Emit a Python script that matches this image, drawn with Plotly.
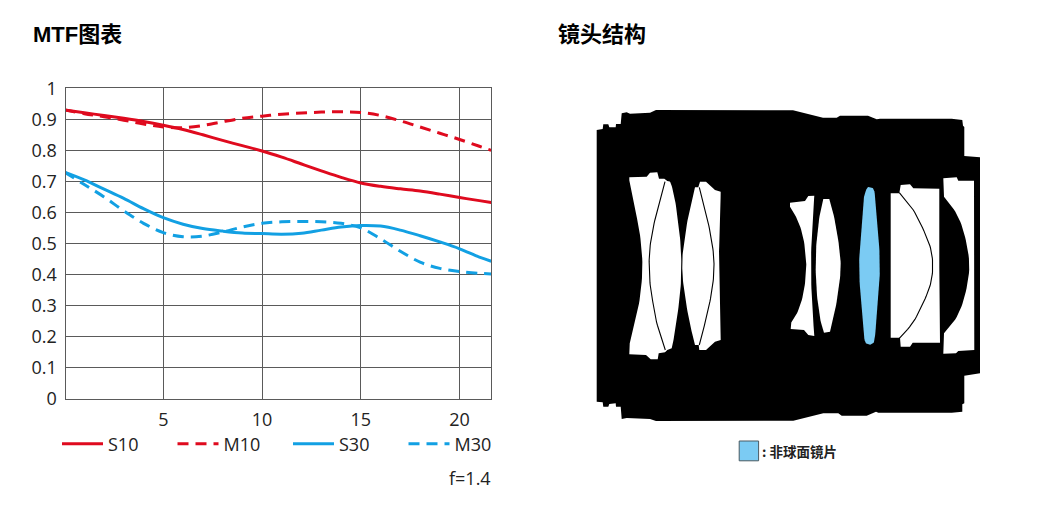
import plotly.graph_objects as go

# MTF data
image_height = [0, 1, 2, 3, 4, 5, 6, 7, 8, 9, 10, 11, 12, 13, 14, 15, 16, 17, 18, 19, 20, 21, 21.6]
s10 = [0.93, 0.921, 0.912, 0.903, 0.893, 0.881, 0.867, 0.85, 0.832, 0.815, 0.798, 0.778, 0.756, 0.734, 0.713, 0.695, 0.684, 0.676, 0.669, 0.659, 0.648, 0.638, 0.632]
m10 = [0.93, 0.918, 0.908, 0.897, 0.885, 0.875, 0.873, 0.88, 0.892, 0.903, 0.91, 0.916, 0.92, 0.923, 0.924, 0.922, 0.912, 0.895, 0.875, 0.855, 0.835, 0.813, 0.80]
s30 = [0.73, 0.705, 0.675, 0.645, 0.612, 0.583, 0.562, 0.548, 0.54, 0.534, 0.532, 0.53, 0.533, 0.543, 0.553, 0.558, 0.556, 0.543, 0.525, 0.505, 0.483, 0.456, 0.443]
m30 = [0.73, 0.69, 0.65, 0.605, 0.565, 0.535, 0.522, 0.524, 0.537, 0.553, 0.565, 0.57, 0.571, 0.57, 0.565, 0.55, 0.515, 0.475, 0.44, 0.42, 0.41, 0.404, 0.402]
x_ticks = [5, 10, 15, 20]

# Lens diagram outlines (picture coordinates); "L" runs are straight, "C" runs are curved
body = [("L", [(596.7,130),(602.7,129),(603.3,124.3),(608.3,124.3),(609.3,127.3),(615.7,127.3),(616,124),(620.7,124),(621.7,113.3),(626.7,112.3),(630,113.7),(650,112.7),(656,110),(793,110.3),(823,117.7),(836.7,117.7),(840,115.7),(868,115.7),(876.7,119.3),(880,118.7),(951.7,118.7),(962.3,120),(963,125.7),(964.3,127),(964.3,156),(980,157.3),(980,373.3),(964.3,375.7),(964.3,403.3),(962.3,404.3),(962.3,411.7),(951.7,412.7),(878.3,412.7),(876,411.7),(866.7,415.7),(841.7,415.7),(838.3,413.3),(823.3,413.3),(793.3,420.7),(656,421),(650,419),(630,418.7),(626.7,418),(621.7,419),(620.7,406.7),(616,406.7),(615.7,403.3),(609.3,404),(608.3,406.7),(603.3,406.7),(602.7,402.3),(596.7,401.7)])]
group_a = [
    ("L", [(629.3,177.3),(646.7,176.7),(650,172.7),(657.3,172.3),(659,178.7),(664.3,178.7),(667.3,181)]),
    ("C", [(667.3,181),(670.7,183),(675,200),(678.5,225),(680.7,246),(681.3,266),(680.7,286),(678.5,307),(675,332),(671.7,348.3)]),
    ("L", [(671.7,348.3),(667.3,350),(665,352.3),(658.7,353.3),(657.7,359.3),(650.7,359.3),(646,355),(629.3,354.3),(629.3,345)]),
    ("C", [(629.3,345),(635,321.7),(640,297),(642.4,266),(640,235),(635,209),(630,186.7),(629.3,177.3)]),
]
seam_a = [(665,181.7),(659,203.3),(652.7,230),(649.7,250),(649.2,266),(650.2,285),(653,303),(656.5,322),(665.3,350)]
group_b = [
    ("C", [(695,187.3),(689.3,211),(685,236),(682.6,255),(682.3,266),(682.6,277),(685,296),(689.3,321),(695,345)]),
    ("L", [(695,345),(698.7,345),(699.3,350),(706,350),(715,341.7),(720.7,340)]),
    ("C", [(720.7,340),(720,305),(718.7,266),(720,227),(720.7,191.7)]),
    ("L", [(720.7,191.7),(715,190),(706,181.7),(700,181.7),(698.3,187.3)]),
]
seam_b = [(699.3,187.3),(706,213),(711,236.7),(713.6,255),(714,266),(713.6,277),(711,296),(706,319),(699.3,345)]
lens_c = [
    ("L", [(790,202.7),(805,201),(808.3,196),(814.3,195.7)]),
    ("C", [(814.3,195.7),(812,230),(811,266),(812,302),(814.3,336)]),
    ("L", [(814.3,336),(808.3,335),(804,330),(790.7,329),(790.7,323.3)]),
    ("C", [(790.7,323.3),(798,311),(803.5,293),(806,272),(806,260),(803.5,239),(798,221),(790,206.7)]),
]
lens_d = [
    ("C", [(823.3,199),(820,213.3),(816.7,240),(815.7,266),(816.7,292),(820,318),(824,332.7)]),
    ("L", [(824,332.7),(830,331.7)]),
    ("C", [(830,331.7),(835,311),(839,286),(840.7,266),(839,246),(835,221),(829.3,199)]),
]
lens_asph = [
    ("C", [(864,196.7),(861.5,226),(859.6,250),(859.2,266),(859.6,282),(861.5,306),(864.3,338.3),(867.3,344),(871.7,344),(874.7,338.3),(877.5,306),(879.4,282),(879.8,266),(879.4,250),(877.5,226),(874.7,193.3),(871.7,187.7),(867.3,187.7),(864,196.7)]),
]
group_e = [("L", [(890.7,193.3),(899.3,193.3),(900.7,185),(910,184.3),(913.3,188.3),(939.3,188.7),(939.3,266.7),(940,342.7),(912.7,342.7),(910,346.7),(900.7,346.7),(900,337.7),(890.7,337.7)])]
seam_e = [(899.3,192.7),(913.3,210),(925,233.3),(931,250),(932.7,266),(931,282),(925,299),(913.3,322),(899.3,338.3)]
lens_f = [
    ("L", [(943.3,178.3),(956.7,177.3),(958.3,180.7),(974,180.7),(974.3,350),(958.3,351),(956,353.3),(943.3,353.7),(944,333.3)]),
    ("C", [(944,333.3),(956.7,317),(965,295),(969.3,266),(965,236.7),(956.7,214),(944,196.7)]),
]
key_box = [("L", [(739.2,441),(758.6,441),(758.6,460.8),(739.2,460.8)])]

RED = "#DF0A1E"
BLUE = "#12A0E3"
SKY = "#7BCBF3"
GRID = "#5A5A5A"
LATIN = "Open Sans, Noto Sans, sans-serif"
BOLD = "Liberation Sans, Noto Sans CJK SC, sans-serif"
CJK = "Noto Sans CJK SC, sans-serif"
# The page has an 8px body margin: the figure covers picture coordinates 8..1036 and 8..517.
OFF = 8
W, H = 1028, 509


def px(v):
    return (v - OFF) / W


def py(v):
    return 1 - (v - OFF) / H


def smooth(pts, steps=8):
    """Catmull-Rom curve through the outline points."""
    out = []
    n = len(pts)
    for i in range(n - 1):
        p0, p1, p2, p3 = pts[max(i - 1, 0)], pts[i], pts[i + 1], pts[min(i + 2, n - 1)]
        for k in range(steps):
            t = k / steps
            out.append(tuple(
                0.5 * (2 * p1[a] + (p2[a] - p0[a]) * t
                       + (2 * p0[a] - 5 * p1[a] + 4 * p2[a] - p3[a]) * t ** 2
                       + (3 * p1[a] - p0[a] - 3 * p2[a] + p3[a]) * t ** 3)
                for a in (0, 1)))
    out.append(pts[-1])
    return out


def outline(runs):
    pts = []
    for kind, run in runs:
        pts += smooth(run) if kind == "C" else run
    return pts + [pts[0]]


fig = go.Figure()

for name, vals, color, dash in [
    ("S10", s10, RED, "solid"),
    ("M10", m10, RED, "11px,7px"),
    ("S30", s30, BLUE, "solid"),
    ("M30", m30, BLUE, "11px,7px"),
]:
    fig.add_trace(go.Scatter(x=image_height, y=vals, name=name, mode="lines",
                             line=dict(color=color, width=3, dash=dash, shape="spline", smoothing=1.0),
                             xaxis="x", yaxis="y"))


def poly(runs, fill, line_color=None, line_width=0):
    pts = outline(runs)
    fig.add_trace(go.Scatter(x=[p[0] for p in pts], y=[p[1] for p in pts],
                             mode="lines", fill="toself", fillcolor=fill,
                             line=dict(color=line_color or fill, width=line_width),
                             showlegend=False, hoverinfo="skip", xaxis="x2", yaxis="y2"))


def seam(run):
    pts = smooth(run)
    fig.add_trace(go.Scatter(x=[p[0] for p in pts], y=[p[1] for p in pts], mode="lines",
                             line=dict(color="#000000", width=1.1),
                             showlegend=False, hoverinfo="skip", xaxis="x2", yaxis="y2"))


poly(body, "#000000")
for g in (group_a, group_b, lens_c, lens_d, group_e, lens_f):
    poly(g, "#FFFFFF")
poly(lens_asph, SKY)
for s in (seam_a, seam_b, seam_e):
    seam(s)
poly(key_box, SKY, "#4A5A62", 1)

fig.update_layout(
    width=W, height=H,
    margin=dict(l=0, r=0, t=0, b=0, autoexpand=False),
    paper_bgcolor="white", plot_bgcolor="rgba(0,0,0,0)",
    xaxis=dict(domain=[px(65.5), px(491.2)], range=[0.05, 21.6], tickmode="array", tickvals=x_ticks,
               showgrid=True, gridcolor=GRID, gridwidth=1, zeroline=False,
               showline=True, linecolor=GRID, linewidth=1, mirror=True, ticks="",
               ticklabelstandoff=5, tickfont=dict(family=LATIN, size=18, color="#222222"), anchor="y"),
    yaxis=dict(domain=[py(398.8), py(88.2)], range=[0, 1], dtick=0.1, tick0=0,
               showgrid=True, gridcolor=GRID, gridwidth=1, zeroline=False,
               showline=True, linecolor=GRID, linewidth=1, mirror=True, ticks="",
               ticklabelstandoff=4, tickfont=dict(family=LATIN, size=18, color="#222222"), anchor="x"),
    xaxis2=dict(domain=[0, 1], range=[OFF, OFF + W], visible=False, anchor="y2", fixedrange=True),
    yaxis2=dict(domain=[0, 1], range=[OFF + H, OFF], visible=False, anchor="x2", fixedrange=True),
    legend=dict(orientation="h", x=px(57), y=py(425.5), xanchor="left", yanchor="top",
                itemwidth=41, entrywidth=59.5, entrywidthmode="pixels", traceorder="normal",
                font=dict(family=LATIN, size=18, color="#222222"), bgcolor="rgba(0,0,0,0)"),
    annotations=[
        dict(text="<b>MTF图表</b>", x=px(31), y=py(34), xref="paper", yref="paper", xanchor="left",
             yanchor="middle", showarrow=False, font=dict(family=BOLD, size=22, color="#000000")),
        dict(text="<b>镜头结构</b>", x=px(556), y=py(34), xref="paper", yref="paper", xanchor="left",
             yanchor="middle", showarrow=False, font=dict(family=BOLD, size=22, color="#000000")),
        dict(text="f=1.4", x=px(493), y=py(478), xref="paper", yref="paper", xanchor="right",
             yanchor="middle", showarrow=False, font=dict(family=LATIN, size=18, color="#222222")),
        dict(text="<b>: 非球面镜片</b>", x=px(760), y=py(451), xref="paper", yref="paper", xanchor="left",
             yanchor="middle", showarrow=False, font=dict(family=CJK, size=13.5, color="#222222")),
    ],
)

fig.write_html("out.html")
